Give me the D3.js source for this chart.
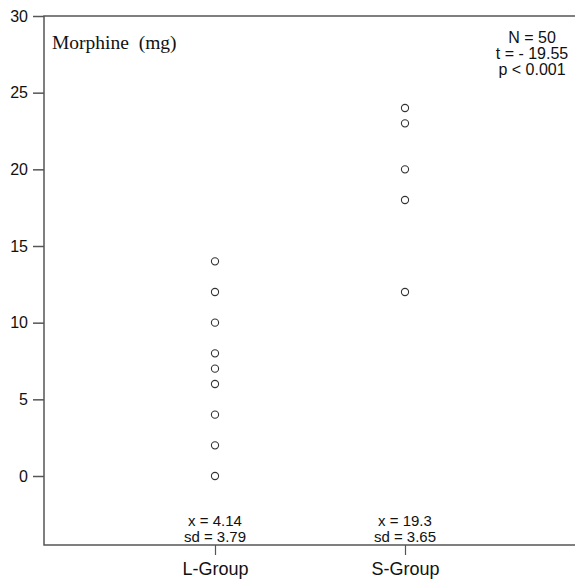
<!DOCTYPE html>
<html>
<head>
<meta charset="utf-8">
<script src="https://cdn.jsdelivr.net/npm/d3@7"></script>
<style>
body { margin: 0; background: #fff; }
text { font-family: "Liberation Sans", Arial, sans-serif; fill: #111; }
</style>
</head>
<body>
<script>
// Data
var groups = ["L-Group", "S-Group"];
var lValues = [0, 2, 4, 6, 7, 8, 10, 12, 14];
var sValues = [12, 18, 20, 23, 24];
var yTicks = [0, 5, 10, 15, 20, 25, 30];
var groupStats = [["x = 4.14", "sd = 3.79"], ["x = 19.3", "sd = 3.65"]];
var testStats = ["N = 50", "t = - 19.55", "p < 0.001"];

var width = 575, height = 579;
var margins = {top: 16, right: 0, bottom: 34, left: 44};

var svg = d3.select("body")
.append("svg")
.attr("width", width)
.attr("height", height);

var y_Scale = d3.scaleLinear()
.domain([-4.5, 30])
.range([height - margins.bottom, margins.top]);

var x_Scale = d3.scalePoint()
.domain(groups)
.range([215, 405]);

var axisColor = "#555";

// Left axis
var y_Axis = svg.append("g")
.attr("transform", `translate(${margins.left}, 0)`)
.call(d3.axisLeft(y_Scale).tickValues(yTicks).tickSize(11).tickPadding(5));
y_Axis.select(".domain").remove();
y_Axis.selectAll("line").attr("stroke", axisColor).attr("stroke-width", 1.5);
y_Axis.selectAll("text").style("font-size", "16px").attr("fill", "#111");

// Bottom axis with group labels
var x_Axis = svg.append("g")
.attr("transform", `translate(0, ${height - margins.bottom})`)
.call(d3.axisBottom(x_Scale).tickSize(10).tickPadding(7));
x_Axis.select(".domain").remove();
x_Axis.selectAll("line").attr("stroke", axisColor).attr("stroke-width", 1.2);
x_Axis.selectAll("text").style("font-size", "18px").attr("fill", "#111");

// Frame: left, bottom and top lines
svg.append("path")
.attr("d", `M${width},${margins.top}H${margins.left}V${height - margins.bottom}H${width}`)
.attr("fill", "none")
.attr("stroke", axisColor)
.attr("stroke-width", 1.5);

// Points
var points = lValues.map(function(v) {return {g: groups[0], v: v};})
.concat(sValues.map(function(v) {return {g: groups[1], v: v};}));

svg.selectAll(".pt")
.data(points)
.enter()
.append("circle")
.attr("class", "pt")
.attr("cx", function(d) {return x_Scale(d.g);})
.attr("cy", function(d) {return y_Scale(d.v);})
.attr("r", 3.6)
.attr("fill", "none")
.attr("stroke", "#333")
.attr("stroke-width", 1.1);

// Title inside the plot
svg.append("text")
.attr("x", 52)
.attr("y", 49)
.style("font-family", "'Liberation Serif', 'Times New Roman', serif")
.style("font-size", "19.5px")
.attr("xml:space", "preserve")
.text("Morphine  (mg)");

// Test statistics, top right
svg.append("g")
.selectAll("text")
.data(testStats)
.enter()
.append("text")
.attr("x", 532)
.attr("y", function(d, i) {return 43 + i * 16;})
.attr("text-anchor", "middle")
.style("font-size", "16px")
.text(function(d) {return d;});

// Mean and sd under each group
groups.forEach(function(g, k) {
  svg.append("g")
  .selectAll("text")
  .data(groupStats[k])
  .enter()
  .append("text")
  .attr("x", x_Scale(g))
  .attr("y", function(d, i) {return 526 + i * 16;})
  .attr("text-anchor", "middle")
  .style("font-size", "15px")
  .text(function(d) {return d;});
});
</script>
</body>
</html>
